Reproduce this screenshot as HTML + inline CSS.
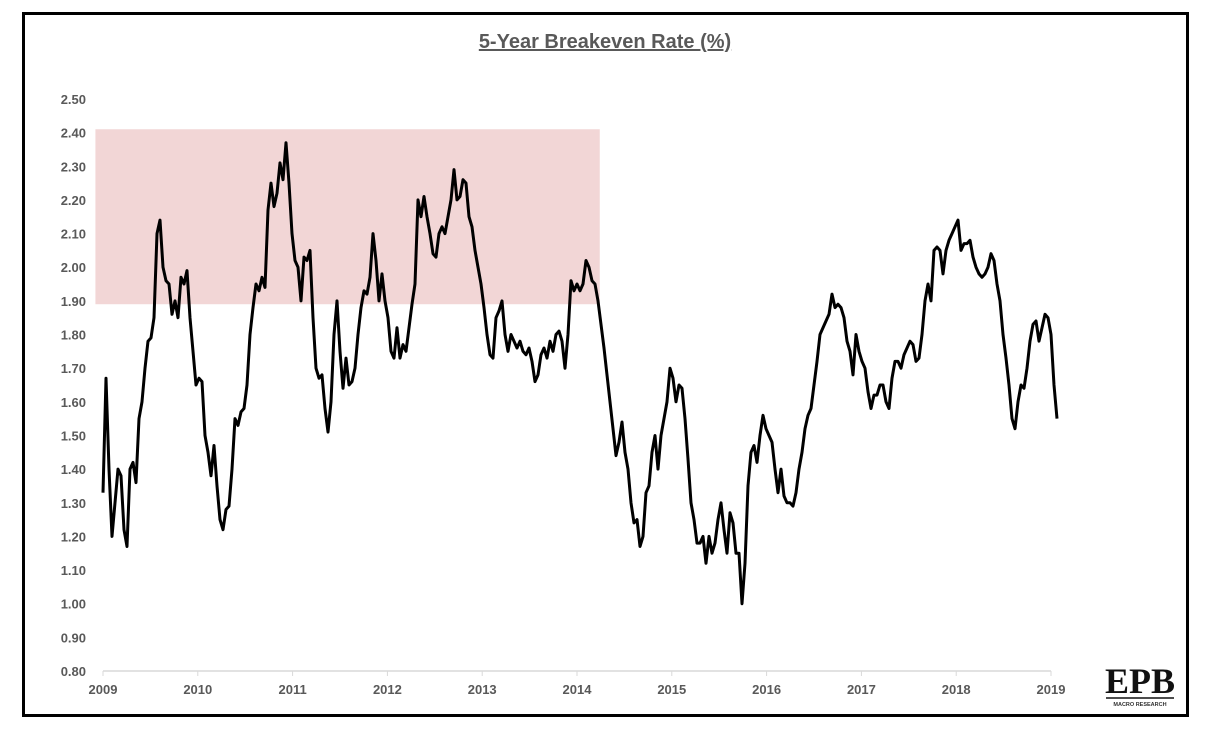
<!DOCTYPE html>
<html><head><meta charset="utf-8"><style>
body{margin:0;background:#fff;font-family:"Liberation Sans",sans-serif;}
#frame{position:absolute;left:22px;top:12px;width:1161px;height:699px;border:3px solid #000;}
</style></head><body>
<div id="frame"></div>
<svg id="chart" width="1209" height="734" style="position:absolute;left:0;top:0">
<text x="605" y="48" text-anchor="middle" font-size="20" font-weight="bold" fill="#595959" text-decoration="underline">5-Year Breakeven Rate (%)</text>
<g id="logo">
<text x="1140" y="693" text-anchor="middle" font-family="Liberation Serif,serif" font-size="36" font-weight="bold" fill="#111">EPB</text>
<line x1="1106" y1="698" x2="1174" y2="698" stroke="#111" stroke-width="1.5"/>
<text x="1140" y="706" text-anchor="middle" font-size="5.5" font-weight="bold" fill="#333">MACRO RESEARCH</text>
</g>
</svg>
<script>
const yTicks=[0.8,0.9,1.0,1.1,1.2,1.3,1.4,1.5,1.6,1.7,1.8,1.9,2.0,2.1,2.2,2.3,2.4,2.5];
const xTicks=[2009,2010,2011,2012,2013,2014,2015,2016,2017,2018,2019];
const shadeRange=[1.89,2.41];
const shadeYears=[2008.92,2014.24];
const startYear=2009.0, stepYears=3/94.8;
const values=[1.33,1.67,1.40,1.20,1.30,1.40,1.38,1.22,1.17,1.40,1.42,1.36,1.55,1.60,1.70,1.78,1.79,1.85,2.10,2.14,2.00,1.96,1.95,1.86,1.90,1.85,1.97,1.95,1.99,1.85,1.75,1.65,1.67,1.66,1.50,1.45,1.38,1.47,1.35,1.25,1.22,1.28,1.29,1.40,1.55,1.53,1.57,1.58,1.65,1.80,1.88,1.95,1.93,1.97,1.94,2.17,2.25,2.18,2.22,2.31,2.26,2.37,2.25,2.10,2.02,2.00,1.90,2.03,2.02,2.05,1.85,1.70,1.67,1.68,1.58,1.51,1.60,1.80,1.90,1.75,1.64,1.73,1.65,1.66,1.70,1.80,1.88,1.93,1.92,1.97,2.10,2.02,1.90,1.98,1.90,1.85,1.75,1.73,1.82,1.73,1.77,1.75,1.82,1.89,1.95,2.20,2.15,2.21,2.15,2.10,2.04,2.03,2.10,2.12,2.10,2.15,2.20,2.29,2.20,2.21,2.26,2.25,2.15,2.12,2.05,2.00,1.95,1.88,1.80,1.74,1.73,1.85,1.87,1.90,1.80,1.75,1.80,1.78,1.76,1.78,1.75,1.74,1.76,1.72,1.66,1.68,1.74,1.76,1.73,1.78,1.75,1.80,1.81,1.78,1.70,1.80,1.96,1.93,1.95,1.93,1.95,2.02,2.00,1.96,1.95,1.90,1.83,1.76,1.68,1.60,1.52,1.44,1.48,1.54,1.45,1.40,1.30,1.24,1.25,1.17,1.20,1.33,1.35,1.45,1.50,1.40,1.50,1.55,1.60,1.70,1.67,1.60,1.65,1.64,1.55,1.43,1.30,1.25,1.18,1.18,1.20,1.12,1.20,1.15,1.18,1.25,1.30,1.22,1.15,1.27,1.24,1.15,1.15,1.00,1.12,1.35,1.45,1.47,1.42,1.50,1.56,1.52,1.50,1.48,1.40,1.33,1.40,1.32,1.30,1.30,1.29,1.33,1.40,1.45,1.52,1.56,1.58,1.65,1.72,1.80,1.82,1.84,1.86,1.92,1.88,1.89,1.88,1.85,1.78,1.75,1.68,1.80,1.75,1.72,1.70,1.63,1.58,1.62,1.62,1.65,1.65,1.60,1.58,1.67,1.72,1.72,1.70,1.74,1.76,1.78,1.77,1.72,1.73,1.80,1.90,1.95,1.90,2.05,2.06,2.05,1.98,2.05,2.08,2.10,2.12,2.14,2.05,2.07,2.07,2.08,2.03,2.00,1.98,1.97,1.98,2.00,2.04,2.02,1.95,1.90,1.80,1.73,1.65,1.55,1.52,1.60,1.65,1.64,1.70,1.78,1.83,1.84,1.78,1.82,1.86,1.85,1.80,1.65,1.55];
const svg=document.getElementById('chart');
const NS='http://www.w3.org/2000/svg';
const X=y=>103+(y-2009)*94.8;
const Y=v=>671-(v-0.8)*336.5;
function mk(t,a){const e=document.createElementNS(NS,t);for(const k in a)e.setAttribute(k,a[k]);svg.appendChild(e);return e;}
const sh=mk('rect',{x:X(shadeYears[0]),y:Y(shadeRange[1]),width:X(shadeYears[1])-X(shadeYears[0]),height:Y(shadeRange[0])-Y(shadeRange[1]),fill:'#f2d6d6'});


yTicks.forEach(v=>{const t=mk('text',{x:86,y:Y(v)+5,'text-anchor':'end','font-size':13,'font-weight':'bold',fill:'#595959'});t.textContent=v.toFixed(2);

});
const ax=mk('line',{x1:X(2009),y1:Y(0.8),x2:X(2019),y2:Y(0.8),stroke:'#d9d9d9','stroke-width':1.5});


xTicks.forEach(yr=>{mk('line',{x1:X(yr),y1:Y(0.8),x2:X(yr),y2:Y(0.8)+5,stroke:'#d9d9d9'});
const t=mk('text',{x:X(yr),y:694,'text-anchor':'middle','font-size':13,'font-weight':'bold',fill:'#595959'});t.textContent=yr;

});
const d=values.map((v,i)=>(i?'L':'M')+X(startYear+i*stepYears).toFixed(1)+','+Y(v).toFixed(1)).join(' ');
const p=mk('path',{d:d,fill:'none',stroke:'#000','stroke-width':3,'stroke-linejoin':'round'});


svg.appendChild(document.getElementById('logo'));
</script>
</body></html>
